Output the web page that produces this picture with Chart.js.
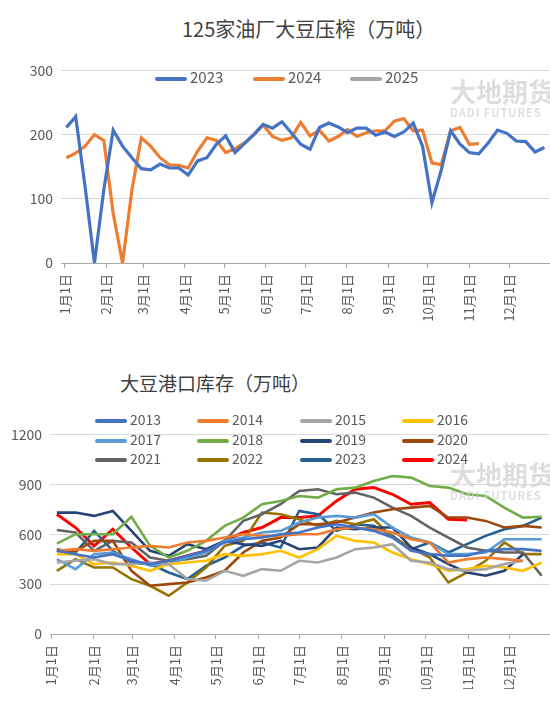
<!DOCTYPE html>
<html><head><meta charset="utf-8">
<script src="https://cdn.jsdelivr.net/npm/chart.js@4/dist/chart.umd.min.js"></script>
<style>
body{margin:0;width:550px;height:703px;position:relative;background:#fff;font-family:"Noto Sans CJK SC",sans-serif;overflow:hidden}
.box{position:absolute;left:0;width:550px}
.t{position:absolute;color:#404040;white-space:nowrap}
.lg{position:absolute;font-size:14px;color:#595959;white-space:nowrap;line-height:16px}
.lg i{display:inline-block;width:32px;height:4px;border-radius:2px;vertical-align:middle;margin-right:3px}
.wm{position:absolute;color:#d0d0d0;opacity:.7;font-weight:bold;white-space:nowrap}
</style></head><body>
<div class="t" style="left:182px;top:14px;font-size:20px">125家油厂大豆压榨（万吨）</div>
<div class="t" style="left:120px;top:369px;font-size:19px">大豆港口库存（万吨）</div>
<div class="box" style="top:54px;height:274px"><canvas id="c1"></canvas></div>
<div class="box" style="top:418px;height:271px"><canvas id="c2"></canvas></div>
<div id="lg1"></div><div id="lg2"></div>
<div class="wm" style="left:450px;top:72px;font-size:26px">大地期货</div>
<div class="wm" style="left:450px;top:104px;font-size:11px;letter-spacing:1px">DADI FUTURES</div>
<div class="wm" style="left:450px;top:455px;font-size:26px">大地期货</div>
<div class="wm" style="left:450px;top:487px;font-size:11px;letter-spacing:1px">DADI FUTURES</div>
<script>
const monthLabels=["1月1日","2月1日","3月1日","4月1日","5月1日","6月1日","7月1日","8月1日","9月1日","10月1日","11月1日","12月1日"];
const monthDays=[0,31,59,90,120,151,181,212,243,273,304,334];

const crush2023=[211,228,119,0,114,207,182,164,147,145,154,148,148,137,159,164,185,198,172,186,200,216,210,220,203,185,177,211,218,212,203,210,210,199,204,197,204,218,182,94,145,206,185,172,170,187,207,202,190,189,173,180];
const crush2024=[164,171,182,200,191,77,0,114,195,182,164,153,152,148,174,195,191,172,178,187,200,215,197,191,195,219,198,207,190,197,208,197,203,206,206,221,225,206,207,156,153,206,211,185,186];
const crush2025=[];

const stockYears=["2013","2014","2015","2016","2017","2018","2019","2020","2021","2022","2023","2024"];
const stockColors=["#4472C4","#ED7D31","#A5A5A5","#FFC000","#5B9BD5","#70AD47","#264478","#9E480E","#636363","#997300","#255E91","#FF0000"];
const s2013=[500,480,460,480,440,420,440,470,500,550,570,580,600,610,640,660,640,620,580,500,480,470,470,500,510,510,500];
const s2014=[500,510,500,510,520,530,520,550,560,580,600,590,590,600,600,630,640,630,610,570,550,430,450,460,450,440];
const s2015=[430,440,450,420,420,430,420,330,320,380,350,390,380,440,430,460,510,520,540,440,430,390,380,390,420,440];
const s2016=[480,480,420,430,410,380,420,430,440,480,470,480,500,460,510,590,560,550,490,450,420,380,390,410,400,380,430];
const s2017=[450,390,480,490,450,410,420,460,490,560,580,610,620,670,700,710,700,720,640,580,550,480,480,490,570,570,570];
const s2018=[543,600,600,600,705,530,460,500,560,650,700,780,800,830,820,870,880,920,950,940,890,880,840,830,760,700,705];
const s2019=[730,730,710,740,620,500,470,540,510,560,540,530,560,510,520,640,630,640,640,520,480,420,370,350,380,480];
const s2020=[500,500,560,560,380,290,300,310,340,380,490,560,580,660,660,670,700,730,750,760,770,700,700,680,640,650,640];
const s2021=[625,610,500,560,550,460,440,450,470,560,680,720,780,860,870,840,850,820,760,710,640,580,520,500,490,490,350];
const s2022=[380,450,400,400,330,290,230,310,400,530,560,730,720,690,650,680,660,690,580,520,460,310,370,440,550,480,480];
const s2023=[510,490,620,500,430,420,370,330,410,460,530,550,520,740,720,620,660,650,590,510,550,490,540,590,630,650,700];
const s2024=[720,640,530,630,520,420,440,470,500,560,610,640,700,700,710,800,870,880,840,780,790,690,685];
const stockSeries=[s2013,s2014,s2015,s2016,s2017,s2018,s2019,s2020,s2021,s2022,s2023,s2024];

const pts=(arr,start,step)=>arr.map((v,i)=>({x:start+i*step,y:v}));
const tickFont={family:"Noto Sans CJK SC",size:13};
function xAxis(min,max,h){return{type:'linear',min:min,max:max,
 afterBuildTicks:a=>{a.ticks=monthDays.map(v=>({value:v}));},
 ticks:{autoSkip:false,minRotation:90,maxRotation:90,color:'#595959',font:tickFont,padding:6,callback:(v)=>monthLabels[monthDays.indexOf(v)]},
 grid:{drawOnChartArea:false,drawTicks:true,tickLength:5,color:'#aaaaaa'},border:{color:'#aaaaaa'},
 afterFit:s=>{s.height=h;}};}
function yAxis(max,step,w){return{min:0,max:max,ticks:{stepSize:step,color:'#595959',font:{family:"Noto Sans CJK SC",size:14},padding:8,callback:v=>String(v)},
 grid:{color:'#d9d9d9',drawTicks:false},border:{display:false},afterFit:s=>{s.width=w;}};}
const common={responsive:true,maintainAspectRatio:false,animation:false,plugins:{legend:{display:false},tooltip:{enabled:false}},elements:{point:{radius:0}}};

new Chart(document.getElementById('c1'),{type:'line',data:{datasets:[
 {label:'2023',data:pts(crush2023,1,7.05),borderColor:'#4472C4',borderWidth:3.2,tension:0},
 {label:'2024',data:pts(crush2024,1,7.05),borderColor:'#ED7D31',borderWidth:3.2},
 {label:'2025',data:pts(crush2025,1,7.05),borderColor:'#A5A5A5',borderWidth:3.2}]},
 options:Object.assign({},common,{layout:{padding:{top:13,right:1}},scales:{x:xAxis(-3,364,65),y:yAxis(300,100,61)}})});

new Chart(document.getElementById('c2'),{type:'line',data:{datasets:stockYears.map((y,i)=>({label:y,data:pts(stockSeries[i],4,13.6),borderColor:stockColors[i],borderWidth:i==11?3:2.6}))},
 options:Object.assign({},common,{layout:{padding:{top:9,right:1}},scales:{x:xAxis(-1,363,55),y:yAxis(1200,300,50)}})});

const lg1=document.getElementById('lg1');
[['2023','#4472C4',155],['2024','#ED7D31',253],['2025','#A5A5A5',350]].forEach(([t,c,x])=>{
 lg1.insertAdjacentHTML('beforeend',`<div class="lg" style="left:${x}px;top:69px;font-size:15px"><i style="background:${c}"></i>${t}</div>`);});
const lg2=document.getElementById('lg2');
const colX=[95,197,300,402];
stockYears.forEach((t,i)=>{const r=Math.floor(i/4),c=i%4;
 lg2.insertAdjacentHTML('beforeend',`<div class="lg" style="left:${colX[c]}px;top:${411+r*19.5}px"><i style="background:${stockColors[i]}"></i>${t}</div>`);});
</script></body></html>
